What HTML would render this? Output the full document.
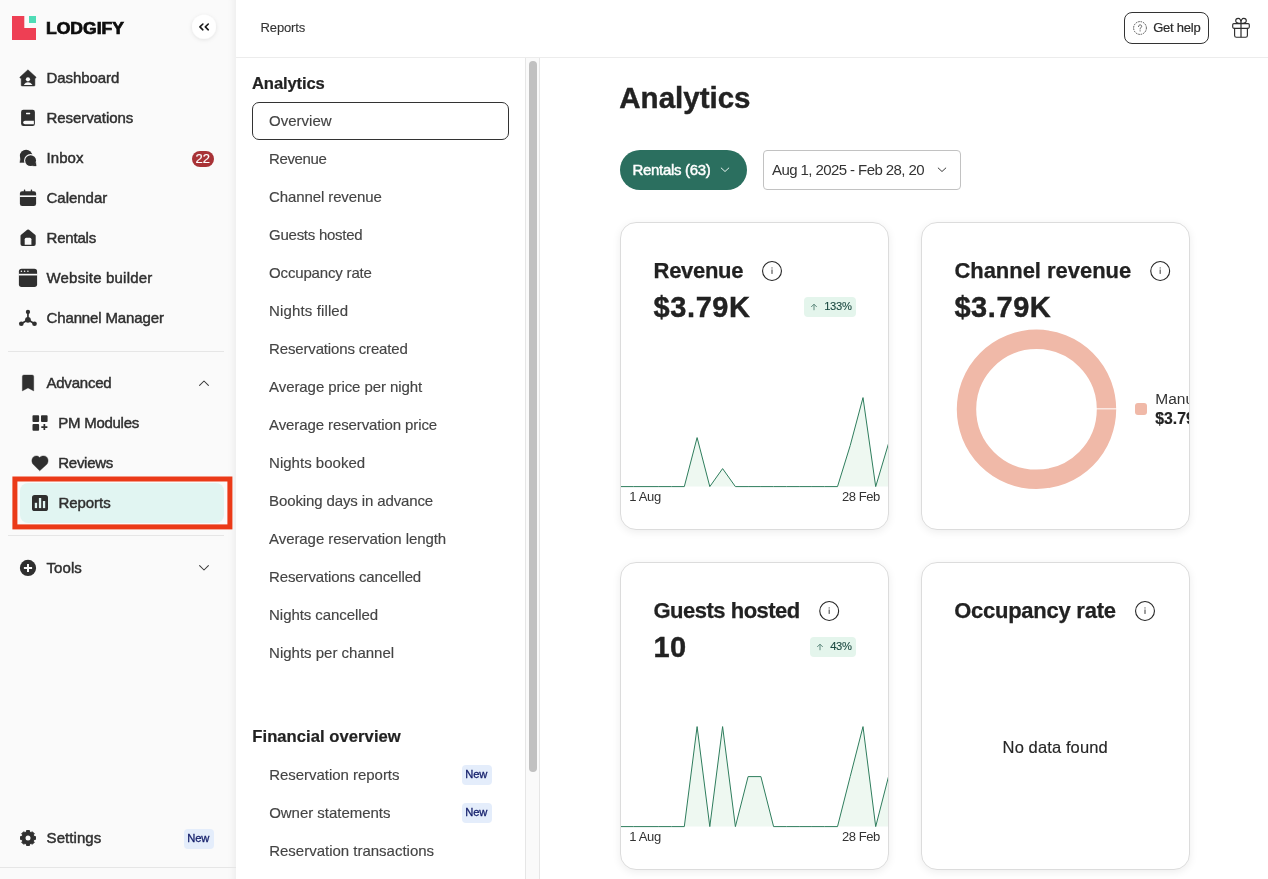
<!DOCTYPE html>
<html><head><meta charset="utf-8"><title>Reports</title><style>html,body{margin:0;padding:0}
body{width:1268px;height:879px;overflow:hidden;position:relative;background:#fff;font-family:"Liberation Sans",sans-serif}
.t{position:absolute;white-space:pre;line-height:1;font-family:"Liberation Sans",sans-serif}
#w{position:absolute;left:0;top:0;width:1268px;height:879px;will-change:transform}
#sb{position:absolute;left:0;top:0;width:236px;height:879px;background:#fafafa;box-shadow:inset -9px 0 8px -8px rgba(0,0,0,.07);overflow:hidden}
.hl{position:absolute;height:1px;background:#e6e6e6}
.nb{position:absolute;width:30px;height:20px;border-radius:4px;background:#e4edfb}
.card{position:absolute;width:267px;height:306px;border:1px solid #dcdcdc;border-radius:16px;background:#fff;box-shadow:0 2px 8px rgba(0,0,0,.075)}
</style></head><body><div id="w">
<div style="position:absolute;left:236px;top:0;width:1032px;height:57px;background:#fff;border-bottom:1px solid #ececec"></div>
<span class="t" style="left:260.5px;top:21.20px;font-size:13px;color:#333;letter-spacing:-0.119px;-webkit-text-stroke:0.1px #333;">Reports</span>
<div style="position:absolute;left:1124px;top:12px;width:83px;height:30px;border:1px solid #333;border-radius:8px;background:#fff"></div>
<svg width="160" height="57" viewBox="1108 0 160 57" style="position:absolute;left:1108px;top:0"><circle cx="1140" cy="28" r="6.4" fill="none" stroke="#444" stroke-width="0.9" stroke-dasharray="1.6 0.9"/><path d="M1138.5 26.6C1138.5 25.4 1139.3 24.9 1140.1 24.9C1141 24.9 1141.7 25.5 1141.7 26.3C1141.7 27.5 1140.1 27.6 1140.1 29" stroke="#555" stroke-width="0.9" fill="none" stroke-linecap="round"/><circle cx="1140.1" cy="30.8" r="0.6" fill="#555"/><path d="M1241 23.6V37.2" stroke="#7a7a7a" stroke-width="1.9"/><g stroke="#2e2e2e" stroke-width="1.15" fill="none" stroke-linejoin="round" stroke-linecap="round"><rect x="1232.7" y="23.6" width="16.6" height="4.7" rx="1.2"/><path d="M1234.6 28.3V35.4Q1234.6 37.2 1236.4 37.2H1245.6Q1247.4 37.2 1247.4 35.4V28.3"/><path d="M1241 23.4C1237.8 23.4 1235.7 22.7 1235.7 20.8C1235.7 19.2 1236.9 18.4 1238.2 18.4C1240 18.4 1241 20.4 1241 23.4C1241 20.4 1242 18.4 1243.8 18.4C1245.1 18.4 1246.3 19.2 1246.3 20.8C1246.3 22.7 1244.2 23.4 1241 23.4Z"/></g></svg>
<span class="t" style="left:1153.2px;top:21.20px;font-size:13px;color:#2b2b2b;letter-spacing:-0.232px;-webkit-text-stroke:0.2px #2b2b2b;">Get help</span>
<div style="position:absolute;left:525px;top:58px;width:13px;height:821px;background:#fafafa;border-left:1px solid #e6e6e6;border-right:1px solid #e6e6e6"></div>
<div style="position:absolute;left:529px;top:61px;width:8px;height:711px;border-radius:4px;background:#c1c1c1"></div>
<span class="t" style="left:252px;top:76.20px;font-size:16.6px;font-weight:700;color:#222;letter-spacing:-0.120px;-webkit-text-stroke:0.2px #222;">Analytics</span>
<div style="position:absolute;left:252px;top:102px;width:255px;height:36px;border:1px solid #333;border-radius:7px;background:#fff"></div>
<span class="t" style="left:269.1px;top:113.20px;font-size:15px;color:#444;letter-spacing:-0.002px;-webkit-text-stroke:0.15px #444;">Overview</span>
<span class="t" style="left:269.1px;top:151.20px;font-size:15px;color:#444;letter-spacing:-0.392px;-webkit-text-stroke:0.15px #444;">Revenue</span>
<span class="t" style="left:269.1px;top:189.20px;font-size:15px;color:#444;letter-spacing:-0.111px;-webkit-text-stroke:0.15px #444;">Channel revenue</span>
<span class="t" style="left:269.1px;top:227.20px;font-size:15px;color:#444;letter-spacing:-0.272px;-webkit-text-stroke:0.15px #444;">Guests hosted</span>
<span class="t" style="left:269.1px;top:265.20px;font-size:15px;color:#444;letter-spacing:-0.169px;-webkit-text-stroke:0.15px #444;">Occupancy rate</span>
<span class="t" style="left:269.1px;top:303.20px;font-size:15px;color:#444;letter-spacing:0.127px;-webkit-text-stroke:0.15px #444;">Nights filled</span>
<span class="t" style="left:269.1px;top:341.20px;font-size:15px;color:#444;letter-spacing:-0.158px;-webkit-text-stroke:0.15px #444;">Reservations created</span>
<span class="t" style="left:269.1px;top:379.20px;font-size:15px;color:#444;letter-spacing:-0.079px;-webkit-text-stroke:0.15px #444;">Average price per night</span>
<span class="t" style="left:269.1px;top:417.20px;font-size:15px;color:#444;letter-spacing:-0.106px;-webkit-text-stroke:0.15px #444;">Average reservation price</span>
<span class="t" style="left:269.1px;top:455.20px;font-size:15px;color:#444;letter-spacing:0.007px;-webkit-text-stroke:0.15px #444;">Nights booked</span>
<span class="t" style="left:269.1px;top:493.20px;font-size:15px;color:#444;letter-spacing:-0.121px;-webkit-text-stroke:0.15px #444;">Booking days in advance</span>
<span class="t" style="left:269.1px;top:531.20px;font-size:15px;color:#444;letter-spacing:-0.078px;-webkit-text-stroke:0.15px #444;">Average reservation length</span>
<span class="t" style="left:269.1px;top:569.20px;font-size:15px;color:#444;letter-spacing:-0.141px;-webkit-text-stroke:0.15px #444;">Reservations cancelled</span>
<span class="t" style="left:269.1px;top:607.20px;font-size:15px;color:#444;letter-spacing:-0.066px;-webkit-text-stroke:0.15px #444;">Nights cancelled</span>
<span class="t" style="left:269.1px;top:645.20px;font-size:15px;color:#444;letter-spacing:-0.004px;-webkit-text-stroke:0.15px #444;">Nights per channel</span>
<span class="t" style="left:252.3px;top:729.20px;font-size:16.6px;font-weight:700;color:#222;letter-spacing:0.052px;-webkit-text-stroke:0.2px #222;">Financial overview</span>
<span class="t" style="left:269.2px;top:767.20px;font-size:15px;color:#444;letter-spacing:-0.032px;-webkit-text-stroke:0.15px #444;">Reservation reports</span>
<span class="t" style="left:269.2px;top:805.20px;font-size:15px;color:#444;letter-spacing:-0.032px;-webkit-text-stroke:0.15px #444;">Owner statements</span>
<span class="t" style="left:269.2px;top:843.20px;font-size:15px;color:#444;letter-spacing:-0.008px;-webkit-text-stroke:0.15px #444;">Reservation transactions</span>
<div class="nb" style="left:462px;top:765px"></div>
<span class="t" style="left:465.2px;top:769.20px;font-size:11.2px;color:#141f6b;letter-spacing:-0.064px;-webkit-text-stroke:0.3px #141f6b;">New</span>
<div class="nb" style="left:462px;top:803px"></div>
<span class="t" style="left:465.2px;top:807.20px;font-size:11.2px;color:#141f6b;letter-spacing:-0.064px;-webkit-text-stroke:0.3px #141f6b;">New</span>
<span class="t" style="left:619.3px;top:83.20px;font-size:29.5px;font-weight:700;color:#222;letter-spacing:0.003px;-webkit-text-stroke:0.4px #222;">Analytics</span>
<div style="position:absolute;left:620px;top:150px;width:127px;height:40px;border-radius:20px;background:#2b6f5f"></div>
<span class="t" style="left:632.5px;top:162.20px;font-size:15px;color:#fff;letter-spacing:-0.309px;-webkit-text-stroke:0.45px #fff;">Rentals (63)</span>
<svg width="12" height="8" viewBox="0 0 12 8" style="position:absolute;left:719px;top:165.6px"><path d="M2.2 2L6 5.5L9.8 2" stroke="#e8f3ef" stroke-width="1" fill="none" stroke-linecap="round" stroke-linejoin="round"/></svg>
<div style="position:absolute;left:763px;top:150px;width:196px;height:38px;border:1px solid #c2c2c2;border-radius:4px;background:#fff"></div>
<span class="t" style="left:772px;top:162.20px;font-size:15px;color:#333;letter-spacing:-0.581px;">Aug 1, 2025 - Feb 28, 20</span>
<svg width="12" height="8" viewBox="0 0 12 8" style="position:absolute;left:936px;top:165.6px"><path d="M2.2 2L6 5.5L9.8 2" stroke="#3a3a3a" stroke-width="1" fill="none" stroke-linecap="round" stroke-linejoin="round"/></svg>
<div class="card" style="left:620px;top:222px"></div>
<div class="card" style="left:921px;top:222px"></div>
<div class="card" style="left:620px;top:562px"></div>
<div class="card" style="left:921px;top:562px"></div>
<svg width="728" height="879" viewBox="540 0 728 879" style="position:absolute;left:540px;top:0">
<defs><clipPath id="c1"><rect x="621" y="223" width="267" height="306" rx="15"/></clipPath><clipPath id="c3"><rect x="621" y="563" width="267" height="306" rx="15"/></clipPath></defs>
<g clip-path="url(#c1)"><polygon points="620.5,486.6 620.5,486.6 633.3,486.6 646.0,486.6 658.8,486.6 671.5,486.6 684.3,486.6 697.1,437.6 709.8,486.6 722.6,468.6 735.4,486.6 748.1,486.6 760.9,486.6 773.6,486.6 786.4,486.6 799.2,486.6 811.9,486.6 824.7,486.6 837.5,486.6 850.2,445.6 863.0,397.6 875.7,486.6 888.5,443.6 888.5,486.6" fill="#eef8f1"/><polyline points="620.5,486.6 633.3,486.6 646.0,486.6 658.8,486.6 671.5,486.6 684.3,486.6 697.1,437.6 709.8,486.6 722.6,468.6 735.4,486.6 748.1,486.6 760.9,486.6 773.6,486.6 786.4,486.6 799.2,486.6 811.9,486.6 824.7,486.6 837.5,486.6 850.2,445.6 863.0,397.6 875.7,486.6 888.5,443.6" fill="none" stroke="#2f7d5d" stroke-width="1" stroke-linejoin="miter"/></g>
<g clip-path="url(#c3)"><polygon points="620.5,826.6 620.5,826.6 633.3,826.6 646.0,826.6 658.8,826.6 671.5,826.6 684.3,826.6 697.1,726.6 709.8,826.6 722.6,726.6 735.4,826.6 748.1,776.6 760.9,776.6 773.6,826.6 786.4,826.6 799.2,826.6 811.9,826.6 824.7,826.6 837.5,826.6 850.2,776.6 863.0,726.6 875.7,826.6 888.5,776.6 888.5,826.6" fill="#eef8f1"/><polyline points="620.5,826.6 633.3,826.6 646.0,826.6 658.8,826.6 671.5,826.6 684.3,826.6 697.1,726.6 709.8,826.6 722.6,726.6 735.4,826.6 748.1,776.6 760.9,776.6 773.6,826.6 786.4,826.6 799.2,826.6 811.9,826.6 824.7,826.6 837.5,826.6 850.2,776.6 863.0,726.6 875.7,826.6 888.5,776.6" fill="none" stroke="#2f7d5d" stroke-width="1" stroke-linejoin="miter"/></g>
<circle cx="772" cy="271" r="9.45" fill="#fff" stroke="#262626" stroke-width="1.1"/><rect x="771.4" y="269.5" width="1.2" height="4.4" fill="#5a5a5a"/><circle cx="772" cy="267.9" r="0.7" fill="#5a5a5a"/>
<circle cx="1160.2" cy="271" r="9.45" fill="#fff" stroke="#262626" stroke-width="1.1"/><rect x="1159.6000000000001" y="269.5" width="1.2" height="4.4" fill="#5a5a5a"/><circle cx="1160.2" cy="267.9" r="0.7" fill="#5a5a5a"/>
<circle cx="829.2" cy="611" r="9.45" fill="#fff" stroke="#262626" stroke-width="1.1"/><rect x="828.6" y="609.5" width="1.2" height="4.4" fill="#5a5a5a"/><circle cx="829.2" cy="607.9" r="0.7" fill="#5a5a5a"/>
<circle cx="1145" cy="611" r="9.45" fill="#fff" stroke="#262626" stroke-width="1.1"/><rect x="1144.4" y="609.5" width="1.2" height="4.4" fill="#5a5a5a"/><circle cx="1145" cy="607.9" r="0.7" fill="#5a5a5a"/>
<circle cx="1036.5" cy="409.3" r="70" fill="none" stroke="#f0b9a8" stroke-width="19.4"/>
<rect x="1096" y="408.35" width="21" height="1" fill="#fff"/>
<rect x="1135" y="403" width="12" height="12" rx="3" fill="#f0b9a8"/>
</svg>
<span class="t" style="left:653.6px;top:260.20px;font-size:22px;font-weight:700;color:#222;letter-spacing:-0.317px;-webkit-text-stroke:0.25px #222;">Revenue</span>
<span class="t" style="left:653.6px;top:293.20px;font-size:29px;font-weight:700;color:#222;letter-spacing:0.581px;-webkit-text-stroke:0.4px #222;">$3.79K</span>
<div style="position:absolute;left:804px;top:297px;width:52px;height:20px;border-radius:4px;background:#e4f5ec"></div><svg width="10" height="12" viewBox="0 0 10 12" style="position:absolute;left:809px;top:301px"><path d="M5 8.8V3.4M2.5 5.7L5 3.2L7.5 5.7" stroke="#5f8a7e" stroke-width="1" fill="none" stroke-linecap="round" stroke-linejoin="round"/></svg><span class="t" style="left:824.2px;top:301.20px;font-size:11.2px;color:#1b4a42;letter-spacing:-0.306px;-webkit-text-stroke:0.1px #1b4a42;">133%</span>
<span class="t" style="left:629.2px;top:490.20px;font-size:13px;color:#333;letter-spacing:-0.293px;">1 Aug</span>
<span class="t" style="left:842px;top:490.20px;font-size:13px;color:#333;letter-spacing:-0.464px;">28 Feb</span>
<span class="t" style="left:954.4px;top:260.20px;font-size:22px;font-weight:700;color:#222;letter-spacing:-0.032px;-webkit-text-stroke:0.25px #222;">Channel revenue</span>
<span class="t" style="left:954.4px;top:293.20px;font-size:29px;font-weight:700;color:#222;letter-spacing:0.581px;-webkit-text-stroke:0.4px #222;">$3.79K</span>
<div style="position:absolute;left:1150px;top:385px;width:39px;height:46px;overflow:hidden"><span class="t" style="left:5.3px;top:6.20px;font-size:15.5px;color:#333;">Manual</span><span class="t" style="left:5.3px;top:26.20px;font-size:15.8px;font-weight:700;color:#222;-webkit-text-stroke:0.2px #222;">$3.79K</span></div>
<span class="t" style="left:653.5px;top:600.20px;font-size:22px;font-weight:700;color:#222;letter-spacing:-0.501px;-webkit-text-stroke:0.25px #222;">Guests hosted</span>
<span class="t" style="left:653.5px;top:633.20px;font-size:29px;font-weight:700;color:#222;letter-spacing:0.467px;-webkit-text-stroke:0.4px #222;">10</span>
<div style="position:absolute;left:810px;top:637px;width:46px;height:20px;border-radius:4px;background:#e4f5ec"></div><svg width="10" height="12" viewBox="0 0 10 12" style="position:absolute;left:815px;top:641px"><path d="M5 8.8V3.4M2.5 5.7L5 3.2L7.5 5.7" stroke="#5f8a7e" stroke-width="1" fill="none" stroke-linecap="round" stroke-linejoin="round"/></svg><span class="t" style="left:830.2px;top:641.20px;font-size:11.2px;color:#1b4a42;letter-spacing:-0.335px;-webkit-text-stroke:0.1px #1b4a42;">43%</span>
<span class="t" style="left:629.2px;top:830.20px;font-size:13px;color:#333;letter-spacing:-0.293px;">1 Aug</span>
<span class="t" style="left:842px;top:830.20px;font-size:13px;color:#333;letter-spacing:-0.464px;">28 Feb</span>
<span class="t" style="left:954.2px;top:600.20px;font-size:22px;font-weight:700;color:#222;letter-spacing:-0.256px;-webkit-text-stroke:0.25px #222;">Occupancy rate</span>
<span class="t" style="left:1002.6px;top:739.20px;font-size:16.5px;color:#262626;letter-spacing:0.118px;-webkit-text-stroke:0.15px #262626;">No data found</span>
<div id="sb">
<div class="hl" style="left:8px;top:351px;width:216px"></div>
<div class="hl" style="left:8px;top:535px;width:216px"></div>
<div class="hl" style="left:0;top:867px;width:236px"></div>
<div style="position:absolute;left:20px;top:483px;width:204px;height:40px;border-radius:8px;background:#e1f5f2"></div>
<svg width="236" height="879" viewBox="0 0 236 879" style="position:absolute;left:0;top:0"><defs><filter id="sh" x="-50%" y="-50%" width="200%" height="200%"><feDropShadow dx="0" dy="1" stdDeviation="2" flood-color="#000" flood-opacity="0.10"/></filter></defs>
<rect x="14.9" y="479" width="215" height="47.9" fill="none" stroke="#eb3a18" stroke-width="5"/>
<path d="M12 16H24.3V28H36V40H12Z" fill="#ee3f54"/><rect x="29" y="16" width="7" height="7" fill="#4fdcb6"/>
<circle cx="204" cy="26.7" r="12" fill="#fff" filter="url(#sh)"/><path d="M202.9 24L199.9 26.9L202.9 29.8M208.3 24L205.3 26.9L208.3 29.8" stroke="#1a1a1a" stroke-width="1.6" fill="none" stroke-linecap="round" stroke-linejoin="round"/>
<path d="M27.95 69.8L36.1 77.2L35.5 78.2H34.9V85.3Q34.9 86 34.2 86H21.9Q21.2 86 21.2 85.3V78.2H20.4L19.8 77.2Z" fill="#2f2f2f" stroke="#2f2f2f" stroke-width="0.5" stroke-linejoin="round"/><circle cx="27.95" cy="79.3" r="2.1" fill="#fafafa"/><path d="M23.8 85C25 83 26.4 82.3 27.95 82.3S30.9 83 32.5 85Z" fill="#fafafa"/>
<rect x="21.1" y="109.8" width="13.8" height="16.1" rx="2.2" fill="#2f2f2f"/><rect x="26" y="112.7" width="4.2" height="1.5" rx="0.4" fill="#fafafa"/><path d="M25 120.7H33.9V124.3H25A1.8 1.8 0 0 1 25 120.7Z" fill="#fafafa"/>
<circle cx="26.1" cy="155.9" r="6.2" fill="#2f2f2f"/><path d="M19.9 162.6L20.7 157.5L25 162.4Z" fill="#2f2f2f" stroke="#2f2f2f" stroke-width="0.4" stroke-linejoin="round"/><circle cx="30.6" cy="160.6" r="6.55" fill="#fafafa"/><circle cx="30.6" cy="160.6" r="5.45" fill="#2f2f2f"/><path d="M36.2 166L35.9 162.6L32.6 165.9Z" fill="#2f2f2f" stroke="#2f2f2f" stroke-width="0.3" stroke-linejoin="round"/>
<rect x="19.9" y="191.2" width="16.2" height="14.8" rx="2.3" fill="#2f2f2f"/><rect x="23.85" y="189.5" width="1.4" height="3" rx="0.5" fill="#2f2f2f"/><rect x="30.75" y="189.5" width="1.4" height="3" rx="0.5" fill="#2f2f2f"/><rect x="19.6" y="195.4" width="16.8" height="1.6" fill="#fafafa"/>
<path d="M20.5 236Q20.5 235.2 21.1 234.7L27.2 229.8Q28.1 229.1 29 229.8L35.1 234.7Q35.7 235.2 35.7 236V244Q35.7 246 33.7 246H22.5Q20.5 246 20.5 244Z" fill="#2f2f2f"/><path d="M24.7 244.7V239.2Q24.7 237.7 26.2 237.7H29.9Q31.4 237.7 31.4 239.2V244.7Z" fill="#fafafa"/>
<rect x="18.9" y="268.8" width="18.2" height="18.1" rx="2.7" fill="#2f2f2f"/><rect x="18.6" y="273.8" width="18.8" height="1.65" fill="#fafafa"/><circle cx="21.4" cy="271.3" r="0.8" fill="#fafafa"/><circle cx="24.6" cy="271.3" r="0.8" fill="#fafafa"/><circle cx="27.9" cy="271.3" r="0.8" fill="#fafafa"/>
<path d="M27.95 312V319.8L21.3 323.75M27.95 319.8L34.5 323.75" stroke="#2f2f2f" stroke-width="1.7" fill="none" stroke-linejoin="round"/><circle cx="27.95" cy="312" r="2.15" fill="#2f2f2f"/><circle cx="21.3" cy="323.75" r="2.35" fill="#2f2f2f"/><circle cx="34.5" cy="323.75" r="2.35" fill="#2f2f2f"/><circle cx="27.95" cy="319.8" r="2.9" fill="#2f2f2f"/>
<path d="M22.3 376.4Q22.3 374.9 23.8 374.9H32.25Q33.75 374.9 33.75 376.4V391L28 387.9L22.3 391Z" fill="#2f2f2f" stroke="#2f2f2f" stroke-width="0.3" stroke-linejoin="round"/>
<rect x="32.5" y="415.2" width="6.6" height="6.7" rx="0.9" fill="#2f2f2f"/><rect x="41" y="415.2" width="6.6" height="6.7" rx="0.9" fill="#2f2f2f"/><rect x="32.5" y="424" width="6.6" height="6.7" rx="0.9" fill="#2f2f2f"/><path d="M41.3 427.15H47.4M44.35 424.1V430" stroke="#2f2f2f" stroke-width="1.7"/>
<path d="M39.7 470.8L33.4 464.6C30.6 461.6 31.8 455.9 36.2 455.9C37.9 455.9 39.1 456.6 39.7 457.4C40.3 456.6 41.5 455.9 43.8 455.9C48.2 455.9 49.4 461.6 46.6 464.6Z" fill="#2f2f2f" stroke="#2f2f2f" stroke-width="0.4" stroke-linejoin="round"/>
<rect x="32" y="495" width="16" height="16" rx="2.6" fill="#2f2f2f"/><rect x="34.8" y="502.8" width="2.3" height="5.3" fill="#e1f5f2"/><rect x="38.9" y="498" width="2.3" height="10.1" fill="#e1f5f2"/><rect x="42.9" y="501" width="2.3" height="7.1" fill="#e1f5f2"/>
<circle cx="28" cy="567.95" r="8.1" fill="#2f2f2f"/><path d="M23.9 568H32.1M28 563.9V572.1" stroke="#fafafa" stroke-width="2"/>
<polygon points="33.99,836.41 35.45,836.52 35.45,839.48 33.99,839.59 33.36,841.11 34.32,842.22 32.22,844.32 31.11,843.36 29.59,843.99 29.48,845.45 26.52,845.45 26.41,843.99 24.89,843.36 23.78,844.32 21.68,842.22 22.64,841.11 22.01,839.59 20.55,839.48 20.55,836.52 22.01,836.41 22.64,834.89 21.68,833.78 23.78,831.68 24.89,832.64 26.41,832.01 26.52,830.55 29.48,830.55 29.59,832.01 31.11,832.64 32.22,831.68 34.32,833.78 33.36,834.89" fill="#2f2f2f" stroke="#2f2f2f" stroke-width="1.0" stroke-linejoin="round"/><circle cx="28" cy="838" r="2.5" fill="#fafafa"/>
<path d="M199.6 385.4L204 381L208.4 385.4" stroke="#3a3a3a" stroke-width="1.05" fill="none" stroke-linecap="round" stroke-linejoin="round"/>
<path d="M199.6 565.6L204 570L208.4 565.6" stroke="#3a3a3a" stroke-width="1.05" fill="none" stroke-linecap="round" stroke-linejoin="round"/>
</svg>
<span class="t" style="left:46.4px;top:21.20px;font-size:15.6px;font-weight:700;color:#0d0d0d;transform:scaleX(1.1253);transform-origin:0 0;-webkit-text-stroke:0.7px #0d0d0d;">LODGIFY</span>
<span class="t" style="left:46.5px;top:70.20px;font-size:15px;color:#2f2f2f;letter-spacing:-0.077px;-webkit-text-stroke:0.45px #2f2f2f;">Dashboard</span>
<span class="t" style="left:46.5px;top:110.20px;font-size:15px;color:#2f2f2f;letter-spacing:-0.071px;-webkit-text-stroke:0.45px #2f2f2f;">Reservations</span>
<span class="t" style="left:46.5px;top:150.20px;font-size:15px;color:#2f2f2f;letter-spacing:0.079px;-webkit-text-stroke:0.45px #2f2f2f;">Inbox</span>
<span class="t" style="left:46.5px;top:190.20px;font-size:15px;color:#2f2f2f;letter-spacing:-0.022px;-webkit-text-stroke:0.45px #2f2f2f;">Calendar</span>
<span class="t" style="left:46.5px;top:230.20px;font-size:15px;color:#2f2f2f;letter-spacing:-0.194px;-webkit-text-stroke:0.45px #2f2f2f;">Rentals</span>
<span class="t" style="left:46.5px;top:270.20px;font-size:15px;color:#2f2f2f;letter-spacing:0.185px;-webkit-text-stroke:0.45px #2f2f2f;">Website builder</span>
<span class="t" style="left:46.5px;top:310.20px;font-size:15px;color:#2f2f2f;letter-spacing:-0.130px;-webkit-text-stroke:0.45px #2f2f2f;">Channel Manager</span>
<span class="t" style="left:46.4px;top:375.20px;font-size:15px;color:#2f2f2f;letter-spacing:-0.202px;-webkit-text-stroke:0.45px #2f2f2f;">Advanced</span>
<span class="t" style="left:58.3px;top:415.20px;font-size:15px;color:#2f2f2f;letter-spacing:-0.267px;-webkit-text-stroke:0.45px #2f2f2f;">PM Modules</span>
<span class="t" style="left:58.3px;top:455.20px;font-size:15px;color:#2f2f2f;letter-spacing:-0.284px;-webkit-text-stroke:0.45px #2f2f2f;">Reviews</span>
<span class="t" style="left:58.5px;top:495.20px;font-size:15px;color:#2f2f2f;letter-spacing:-0.062px;-webkit-text-stroke:0.45px #2f2f2f;">Reports</span>
<span class="t" style="left:46.4px;top:560.20px;font-size:15px;color:#2f2f2f;letter-spacing:0.114px;-webkit-text-stroke:0.45px #2f2f2f;">Tools</span>
<span class="t" style="left:46.6px;top:830.20px;font-size:15px;color:#2f2f2f;letter-spacing:0.062px;-webkit-text-stroke:0.45px #2f2f2f;">Settings</span>
<div style="position:absolute;left:192px;top:151px;width:22px;height:16px;border-radius:8px;background:#a83236"></div>
<span class="t" style="left:195.6px;top:152.20px;font-size:13px;color:#fff;letter-spacing:-0.034px;-webkit-text-stroke:0.15px #fff;">22</span>
<div class="nb" style="left:184px;top:829px"></div>
<span class="t" style="left:187.2px;top:833.20px;font-size:11.2px;color:#141f6b;letter-spacing:-0.064px;-webkit-text-stroke:0.3px #141f6b;">New</span>
</div>
</div></body></html>
